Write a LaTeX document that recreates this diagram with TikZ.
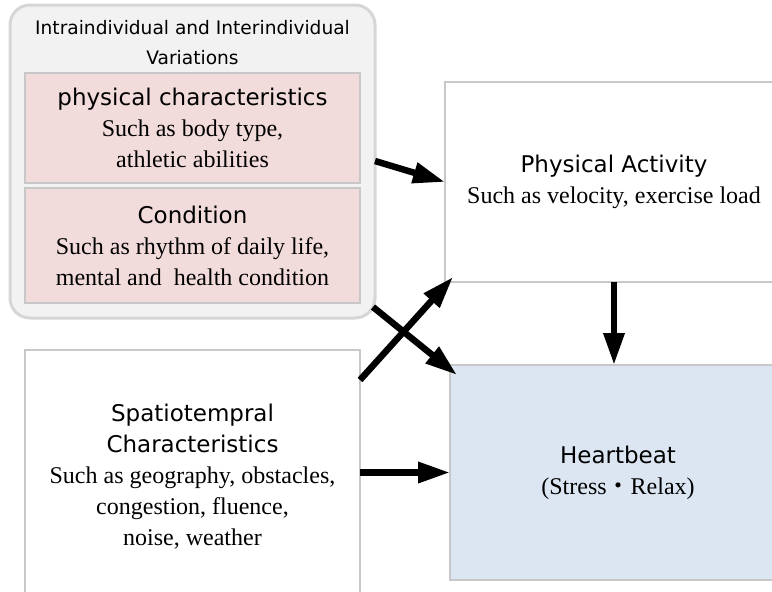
\documentclass[tikz,border=0pt]{standalone}
\usepackage{fontspec}
\setmainfont{Liberation Serif}
\newfontfamily\gothic{DejaVu Sans}
\newfontfamily\cjk{Noto Sans CJK JP}
\usepackage{xcolor}
\usepackage{tikz}
\usetikzlibrary{positioning,arrows.meta,calc}
\definecolor{groupfill}{RGB}{242,242,242}
\definecolor{groupline}{RGB}{214,214,214}
\definecolor{pinkfill}{RGB}{242,220,219}
\definecolor{bluefill}{RGB}{220,230,242}
\definecolor{boxline}{RGB}{200,200,200}
\newcommand{\hd}[1]{{\gothic\fontsize{23}{31}\selectfont #1}}
\tikzset{
    group box/.style={rectangle, rounded corners=20pt, draw=groupline, fill=groupfill, line width=3pt, outer sep=0pt},
    factor box/.style={rectangle, draw=boxline, line width=1.2pt, fill=white, align=center, outer sep=0pt,
        font=\fontsize{24}{31}\selectfont},
    inner factor/.style={factor box, fill=pinkfill, minimum width=335pt},
    result box/.style={factor box, fill=bluefill},
    title label/.style={align=center, font=\gothic\fontsize{18.6}{30}\selectfont},
    effect/.style={-{Triangle[length=32pt,width=20pt]}, line width=6.5pt, black}
}

\begin{document}
\begin{tikzpicture}[x=1pt, y=-1pt]
    \useasboundingbox (0,0) rectangle (772,592);

    % Variations group
    \node[group box, minimum width=365pt, minimum height=313pt] (group) at (192.5,161.5) {};
    \node[title label] (title) at (192.5,43) {Intraindividual and Interindividual\\Variations};
    \node[inner factor, minimum height=110pt] (phys) at (192.5,128)
        {\hd{physical characteristics}\\Such as body type,\\ athletic abilities};
    \node[inner factor, minimum height=115pt] (cond) at (192.5,245.5)
        {\hd{Condition}\\Such as rhythm of daily life,\\ mental and\ \ health condition};

    % Spatiotemporal factors
    \node[factor box, minimum width=335pt, minimum height=254pt] (spat) at (192.5,477)
        {\hd{Spatiotempral}\\\hd{Characteristics}\\Such as geography, obstacles,\\congestion, fluence,\\ noise, weather};

    % Activity and heartbeat
    \node[factor box, minimum width=338pt, minimum height=200pt] (act) at (614,182)
        {\hd{Physical Activity}\\Such as velocity, exercise load};
    \node[result box, minimum width=336pt, minimum height=215pt] (heart) at (618,472.5)
        {\hd{Heartbeat}\\(Stress{\cjk ・}Relax)};

    % Effects
    \draw[effect] (group.east |- 0,161) -- (act.west);
    \draw[effect] ([xshift=-2pt,yshift=11pt]group.south east) -- ([xshift=7pt,yshift=-10pt]heart.north west);
    \draw[effect] ([yshift=-30pt]spat.north east) -- ([xshift=8pt,yshift=5pt]act.south west);
    \draw[effect] (act.south) -- (act.south |- heart.north);
    \draw[effect] (spat.east |- heart.west) -- (heart.west);
\end{tikzpicture}
\end{document}
